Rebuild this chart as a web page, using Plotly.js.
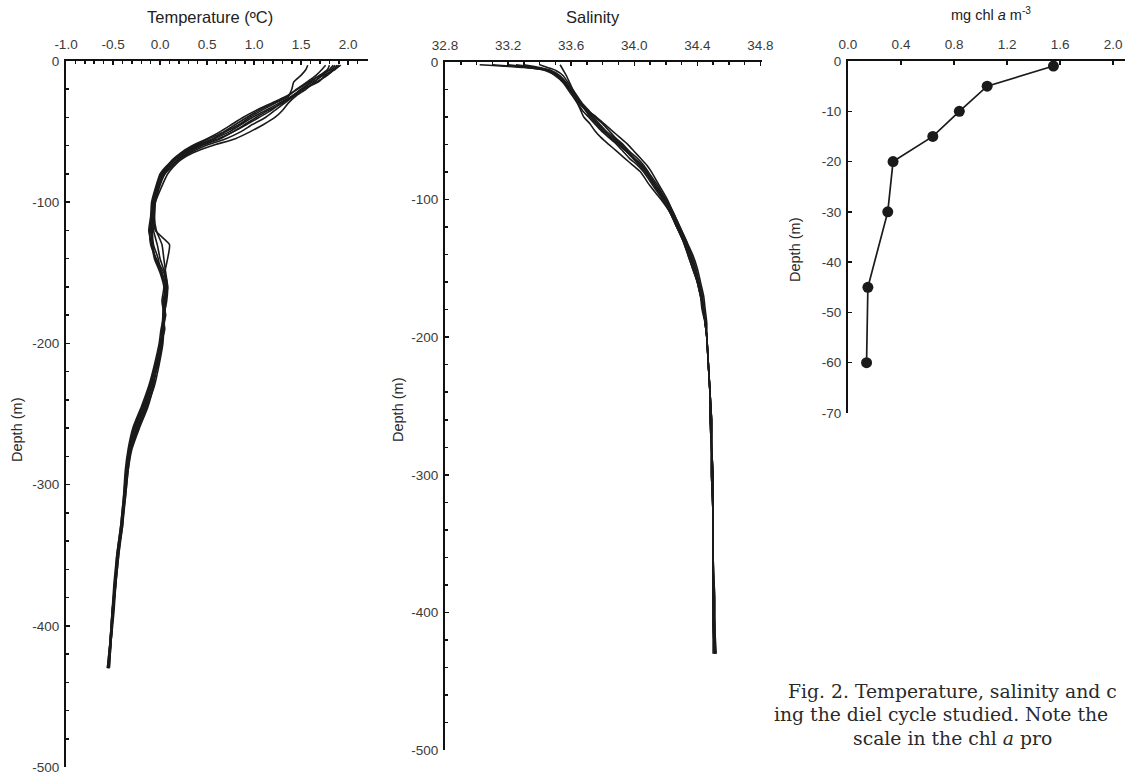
<!DOCTYPE html>
<html>
<head>
<meta charset="utf-8">
<script src="https://cdn.plot.ly/plotly-3.0.1.min.js"></script>
<style>html,body{margin:0;padding:0;background:#fff;overflow:hidden}#chart{width:1125px;height:776px}</style>
</head>
<body>
<div id="chart"></div>
<script>
// ---------- Temperature profiles (CTD casts) ----------
const tempDepth = [-3,-6,-10,-15,-20,-25,-30,-35,-40,-45,-50,-55,-60,-65,-70,-75,-80,-90,-100,-110,-120,-130,-140,-150,-160,-170,-180,-190,-200,-215,-230,-245,-260,-275,-290,-310,-330,-350,-370,-390,-410,-430];
const tempCastA = [1.57,1.55,1.50,1.42,1.40,1.36,1.20,1.05,0.92,0.80,0.68,0.52,0.36,0.24,0.15,0.08,0.02,-0.04,-0.08,-0.09,-0.10,-0.08,-0.05,0.02,0.05,0.04,0.03,0.02,0.00,-0.05,-0.11,-0.18,-0.27,-0.33,-0.36,-0.39,-0.42,-0.46,-0.49,-0.51,-0.53,-0.56];
const tempCastB = [1.88,1.85,1.78,1.66,1.52,1.42,1.32,1.22,1.12,0.98,0.86,0.70,0.48,0.32,0.20,0.12,0.05,-0.02,-0.06,-0.07,-0.05,0.10,0.08,0.05,0.07,0.06,0.05,0.04,0.02,-0.03,-0.08,-0.15,-0.24,-0.31,-0.34,-0.37,-0.40,-0.44,-0.47,-0.50,-0.52,-0.54];
const tempCastC = [1.92,1.86,1.74,1.62,1.50,1.40,1.28,1.18,1.05,0.92,0.78,0.62,0.42,0.28,0.18,0.11,0.04,-0.03,-0.06,-0.09,-0.11,-0.10,-0.04,0.04,0.07,0.03,0.06,0.02,0.02,-0.02,-0.09,-0.16,-0.25,-0.32,-0.35,-0.38,-0.41,-0.45,-0.48,-0.50,-0.52,-0.55];
const tempCastD = [1.84,1.80,1.72,1.64,1.55,1.44,1.36,1.30,1.22,1.10,0.96,0.80,0.55,0.35,0.22,0.14,0.08,0.01,-0.05,-0.06,-0.08,-0.07,-0.02,0.01,0.06,0.05,0.03,0.05,0.01,-0.05,-0.10,-0.19,-0.28,-0.33,-0.36,-0.38,-0.40,-0.45,-0.47,-0.49,-0.52,-0.55];
const tempCastE = [1.76,1.72,1.66,1.56,1.45,1.36,1.22,1.08,0.95,0.84,0.70,0.56,0.38,0.24,0.14,0.06,0.00,-0.05,-0.09,-0.10,-0.12,-0.09,-0.06,0.00,0.04,0.02,0.04,0.01,-0.01,-0.06,-0.12,-0.20,-0.29,-0.34,-0.37,-0.39,-0.42,-0.46,-0.48,-0.51,-0.53,-0.56];
const tempCastF = [1.80,1.78,1.70,1.58,1.46,1.34,1.18,1.02,0.88,0.76,0.64,0.50,0.34,0.22,0.13,0.07,0.01,-0.04,-0.07,-0.08,-0.07,-0.03,0.00,0.05,0.08,0.07,0.04,0.03,0.02,-0.03,-0.07,-0.13,-0.22,-0.30,-0.34,-0.37,-0.41,-0.44,-0.47,-0.50,-0.52,-0.54];
const tempCastG = [1.86,1.82,1.70,1.60,1.50,1.40,1.30,1.15,1.02,0.90,0.78,0.64,0.44,0.30,0.19,0.11,0.05,-0.01,-0.05,-0.06,-0.04,0.02,0.04,0.06,0.08,0.06,0.05,0.04,0.03,-0.01,-0.06,-0.14,-0.23,-0.31,-0.35,-0.38,-0.41,-0.45,-0.48,-0.50,-0.53,-0.55];
const tempCastH = [1.90,1.84,1.76,1.68,1.52,1.40,1.26,1.12,0.98,0.86,0.74,0.58,0.40,0.26,0.16,0.09,0.03,-0.02,-0.06,-0.08,-0.09,-0.08,-0.05,0.02,0.06,0.05,0.04,0.03,0.01,-0.04,-0.10,-0.17,-0.26,-0.32,-0.35,-0.38,-0.41,-0.45,-0.48,-0.51,-0.53,-0.55];

// ---------- Salinity profiles ----------
const salDepth = [-2,-4,-6,-10,-15,-20,-25,-30,-35,-40,-45,-50,-55,-60,-65,-70,-75,-80,-90,-100,-110,-120,-130,-140,-150,-160,-170,-180,-190,-200,-220,-240,-260,-280,-300,-330,-360,-390,-410,-430];
const salCast1 = [33.02,33.30,33.44,33.50,33.55,33.58,33.61,33.64,33.67,33.71,33.75,33.79,33.84,33.89,33.93,33.97,34.02,34.06,34.12,34.18,34.23,34.27,34.31,34.34,34.37,34.40,34.42,34.44,34.45,34.46,34.47,34.48,34.49,34.49,34.49,34.50,34.50,34.50,34.50,34.51];
const salCast2 = [33.53,33.54,33.55,33.57,33.59,33.61,33.63,33.66,33.70,33.76,33.81,33.86,33.91,33.96,34.00,34.04,34.08,34.11,34.16,34.21,34.25,34.29,34.33,34.37,34.40,34.42,34.44,34.45,34.46,34.46,34.47,34.48,34.49,34.49,34.50,34.50,34.50,34.51,34.51,34.51];
const salCast3 = [33.20,33.35,33.45,33.52,33.56,33.59,33.62,33.64,33.66,33.68,33.72,33.75,33.79,33.84,33.89,33.94,33.99,34.04,34.10,34.17,34.23,34.27,34.31,34.34,34.37,34.40,34.42,34.43,34.45,34.46,34.47,34.48,34.48,34.49,34.49,34.50,34.50,34.50,34.50,34.50];
const salCast4 = [33.30,33.40,33.47,33.53,33.57,33.60,33.63,33.66,33.70,33.74,33.78,33.82,33.87,33.92,33.96,34.00,34.04,34.08,34.14,34.20,34.24,34.28,34.32,34.36,34.39,34.41,34.43,34.44,34.45,34.46,34.47,34.48,34.49,34.49,34.49,34.50,34.50,34.50,34.50,34.51];
const salCast5 = [33.10,33.32,33.43,33.51,33.55,33.59,33.62,33.65,33.69,33.73,33.77,33.81,33.85,33.90,33.95,33.99,34.03,34.07,34.13,34.19,34.24,34.28,34.32,34.35,34.38,34.41,34.43,34.44,34.45,34.46,34.47,34.48,34.48,34.49,34.49,34.50,34.50,34.50,34.51,34.51];
const salCast6 = [33.40,33.45,33.50,33.55,33.58,33.61,33.64,33.67,33.71,33.75,33.80,33.84,33.88,33.93,33.97,34.02,34.06,34.09,34.15,34.20,34.25,34.29,34.33,34.36,34.39,34.41,34.43,34.44,34.45,34.46,34.47,34.48,34.49,34.49,34.50,34.50,34.50,34.51,34.51,34.52];
const salCast7 = [33.25,33.38,33.46,33.52,33.56,33.60,33.63,33.66,33.69,33.72,33.76,33.80,33.86,33.91,33.95,34.00,34.05,34.08,34.13,34.19,34.23,34.27,34.31,34.35,34.38,34.40,34.42,34.44,34.45,34.46,34.47,34.48,34.49,34.49,34.50,34.50,34.50,34.50,34.51,34.51];

// ---------- Chlorophyll a profile ----------
const chlDepth = [-1,-5,-10,-15,-20,-30,-45,-60];
const chlValue = [1.55,1.05,0.84,0.64,0.34,0.30,0.15,0.14];

// ---------- Tick labels ----------
const tempTickVals = [-1.0,-0.5,0.0,0.5,1.0,1.5,2.0];
const tempTickText = ["-1.0","-0.5","0.0","0.5","1.0","1.5","2.0"];
const salTickVals = [32.8,33.2,33.6,34.0,34.4,34.8];
const salTickText = ["32.8","33.2","33.6","34.0","34.4","34.8"];
const chlTickVals = [0.0,0.4,0.8,1.2,1.6,2.0];
const chlTickText = ["0.0","0.4","0.8","1.2","1.6","2.0"];
const deepTickVals = [0,-100,-200,-300,-400,-500];
const deepTickText = ["0","-100","-200","-300","-400","-500"];
const chlDepthTickVals = [0,-10,-20,-30,-40,-50,-60,-70];
const chlDepthTickText = ["0","-10","-20","-30","-40","-50","-60","-70"];

// ---------- Caption (as visible, cut by the figure edge) ----------
const captionLines = [
  'Fig. 2. Temperature, salinity and c',
  'ing the diel cycle studied. Note the',
  'scale in the chl <i>a</i> pro'
];

const W = 1125, H = 776;
const LINE = '#1a1a1a';
const FAM = 'Liberation Sans, Arial, sans-serif';
const tickFont = {family: FAM, size: 13.5, color: '#3a3a3a'};

const traces = [];
[tempCastA,tempCastB,tempCastC,tempCastD,tempCastE,tempCastF,tempCastG,tempCastH].forEach(c => {
  traces.push({x: c, y: tempDepth, xaxis: 'x', yaxis: 'y', mode: 'lines', type: 'scatter',
    line: {color: LINE, width: 1.6, shape: 'spline', smoothing: 0.5}, hoverinfo: 'skip', showlegend: false});
});
[salCast1,salCast2,salCast3,salCast4,salCast5,salCast6,salCast7].forEach(c => {
  traces.push({x: c, y: salDepth, xaxis: 'x2', yaxis: 'y2', mode: 'lines', type: 'scatter',
    line: {color: LINE, width: 1.6, shape: 'spline', smoothing: 0.5}, hoverinfo: 'skip', showlegend: false});
});
traces.push({x: chlValue, y: chlDepth, xaxis: 'x3', yaxis: 'y3', mode: 'lines+markers', type: 'scatter',
  line: {color: LINE, width: 1.7}, marker: {color: LINE, size: 11}, showlegend: false});

function xAx(domain, range, vals, text, minorD, anchor) {
  const a = {domain: domain, range: range, side: 'top', anchor: anchor,
    showline: true, linecolor: '#111', linewidth: 2, showgrid: false, zeroline: false,
    tickmode: 'array', tickvals: vals, ticktext: text, ticks: 'inside', ticklen: 4, tickwidth: 1.5, tickcolor: '#111',
    tickfont: tickFont, ticklabelstandoff: 5, fixedrange: true};
  if (minorD) a.minor = {tickmode: 'linear', tick0: range[0], dtick: minorD, ticks: 'inside', ticklen: 2.5, tickwidth: 1.5, tickcolor: '#111', showgrid: false};
  return a;
}
function yAx(domain, range, vals, text, minorD, anchor) {
  const a = {domain: domain, range: range, anchor: anchor,
    showline: true, linecolor: '#111', linewidth: 2, showgrid: false, zeroline: false,
    tickmode: 'array', tickvals: vals, ticktext: text, ticks: 'inside', ticklen: 4, tickwidth: 1.5, tickcolor: '#111',
    tickfont: tickFont, ticklabelstandoff: 2, fixedrange: true};
  if (minorD) a.minor = {tickmode: 'linear', tick0: 0, dtick: minorD, ticks: 'inside', ticklen: 3, tickwidth: 1.5, tickcolor: '#111', showgrid: false};
  return a;
}

const px = v => v / W;
const py = v => (H - v) / H;

const titleFont = {family: FAM, size: 16.5, color: '#222'};
const depthFont = {family: FAM, size: 14.5, color: '#2a2a2a'};
const capFont = {family: 'DejaVu Serif, serif', size: 18.8, color: '#2a2a2a'};

function note(text, x, y, font, extra) {
  return Object.assign({text: text, x: px(x), y: py(y), xref: 'paper', yref: 'paper', showarrow: false,
    xanchor: 'center', yanchor: 'middle', font: font}, extra || {});
}
const annotations = [
  note('Temperature (ºC)', 210, 17, titleFont),
  note('Salinity', 593, 17, titleFont),
  note('mg chl <i>a</i> m<sup>-3</sup>', 991, 14, {family: FAM, size: 14.5, color: '#222'}),
  note('Depth (m)', 17, 430, depthFont, {textangle: -90}),
  note('Depth (m)', 398, 410, depthFont, {textangle: -90}),
  note('Depth (m)', 795, 250, depthFont, {textangle: -90})
];
const capX = [786, 772, 851], capY = [691, 714, 738];
captionLines.forEach((t, i) => annotations.push(note(t, capX[i], capY[i], capFont, {xanchor: 'left'})));

const layout = {
  width: W, height: H, margin: {l: 0, r: 0, t: 0, b: 0},
  paper_bgcolor: '#fff', plot_bgcolor: '#fff', showlegend: false,
  xaxis: xAx([px(66), px(368)], [-1.0, 2.21], tempTickVals, tempTickText, 0.1, 'y'),
  yaxis: yAx([py(767), py(61)], [-500, 0], deepTickVals, deepTickText, 20, 'x'),
  xaxis2: xAx([px(445), px(762)], [32.8, 34.81], salTickVals, salTickText, 0.1, 'y2'),
  yaxis2: yAx([py(750), py(62)], [-500, 0], deepTickVals, deepTickText, 20, 'x2'),
  xaxis3: xAx([px(848), 1], [0, 2.09], chlTickVals, chlTickText, null, 'y3'),
  yaxis3: yAx([py(413), py(61)], [-70, 0], chlDepthTickVals, chlDepthTickText, null, 'x3'),
  annotations: annotations
};

Plotly.newPlot('chart', traces, layout, {staticPlot: true, displayModeBar: false});
</script>
</body>
</html>
